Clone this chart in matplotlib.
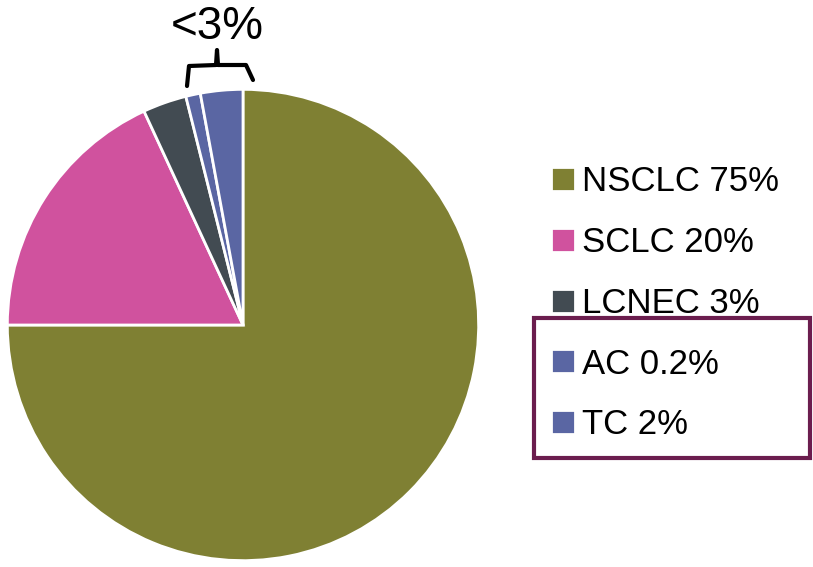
import matplotlib.pyplot as plt
from matplotlib.lines import Line2D
from matplotlib.patches import Rectangle

W, H, DPI = 813, 567, 100

# values (clockwise from 12 o'clock)
labels = ["NSCLC 75%", "SCLC 20%", "LCNEC 3%", "AC 0.2%", "TC 2%"]
shares = [75.0, 18.1, 3.0, 1.0, 2.9]
colors = ["#7f8033", "#d0529e", "#424b52", "#5a66a3", "#5a66a3"]

plt.rcParams["font.family"] = ["Liberation Sans", "DejaVu Sans"]

fig = plt.figure(figsize=(W / DPI, H / DPI), dpi=DPI)

# pie centred at (243, 325) px with radius 238 px
cx, cy, r = 243, 325, 238
ax = fig.add_axes([(cx - r) / W, (H - cy - r) / H, 2 * r / W, 2 * r / H])
wedges, _ = ax.pie(shares, colors=colors, startangle=90, counterclock=False,
                   wedgeprops=dict(edgecolor="white", linewidth=2))
ax.set_xlim(-1.01, 1.01)
ax.set_ylim(-1.01, 1.01)
ax.set_aspect("equal")
ax.axis("off")


def px(x, y):
    return x / W, 1 - y / H


# bracket over the small slices
bx = [187, 189, 216, 217, 218, 246, 253]
by = [86, 66, 65, 50, 65, 65, 80]
fx, fy = zip(*[px(x, y) for x, y in zip(bx, by)])
fig.add_artist(Line2D(fx, fy, transform=fig.transFigure, color="black",
                      linewidth=3, solid_joinstyle="round", solid_capstyle="round"))
fig.text(*px(217, 27), "<3%", fontsize=33, ha="center", va="center")

# legend
leg = fig.legend(wedges, labels, loc="upper left", bbox_to_anchor=px(520, 134),
                 frameon=False, fontsize=25, handlelength=0.68, handleheight=0.68,
                 handletextpad=0.2, labelspacing=0.8)

# box around the carcinoid entries
fig.add_artist(Rectangle(px(534, 458), 276 / W, 140 / H, transform=fig.transFigure,
                         fill=False, edgecolor="#6b1d4e", linewidth=3))

fig.savefig("out.png", dpi=DPI)
